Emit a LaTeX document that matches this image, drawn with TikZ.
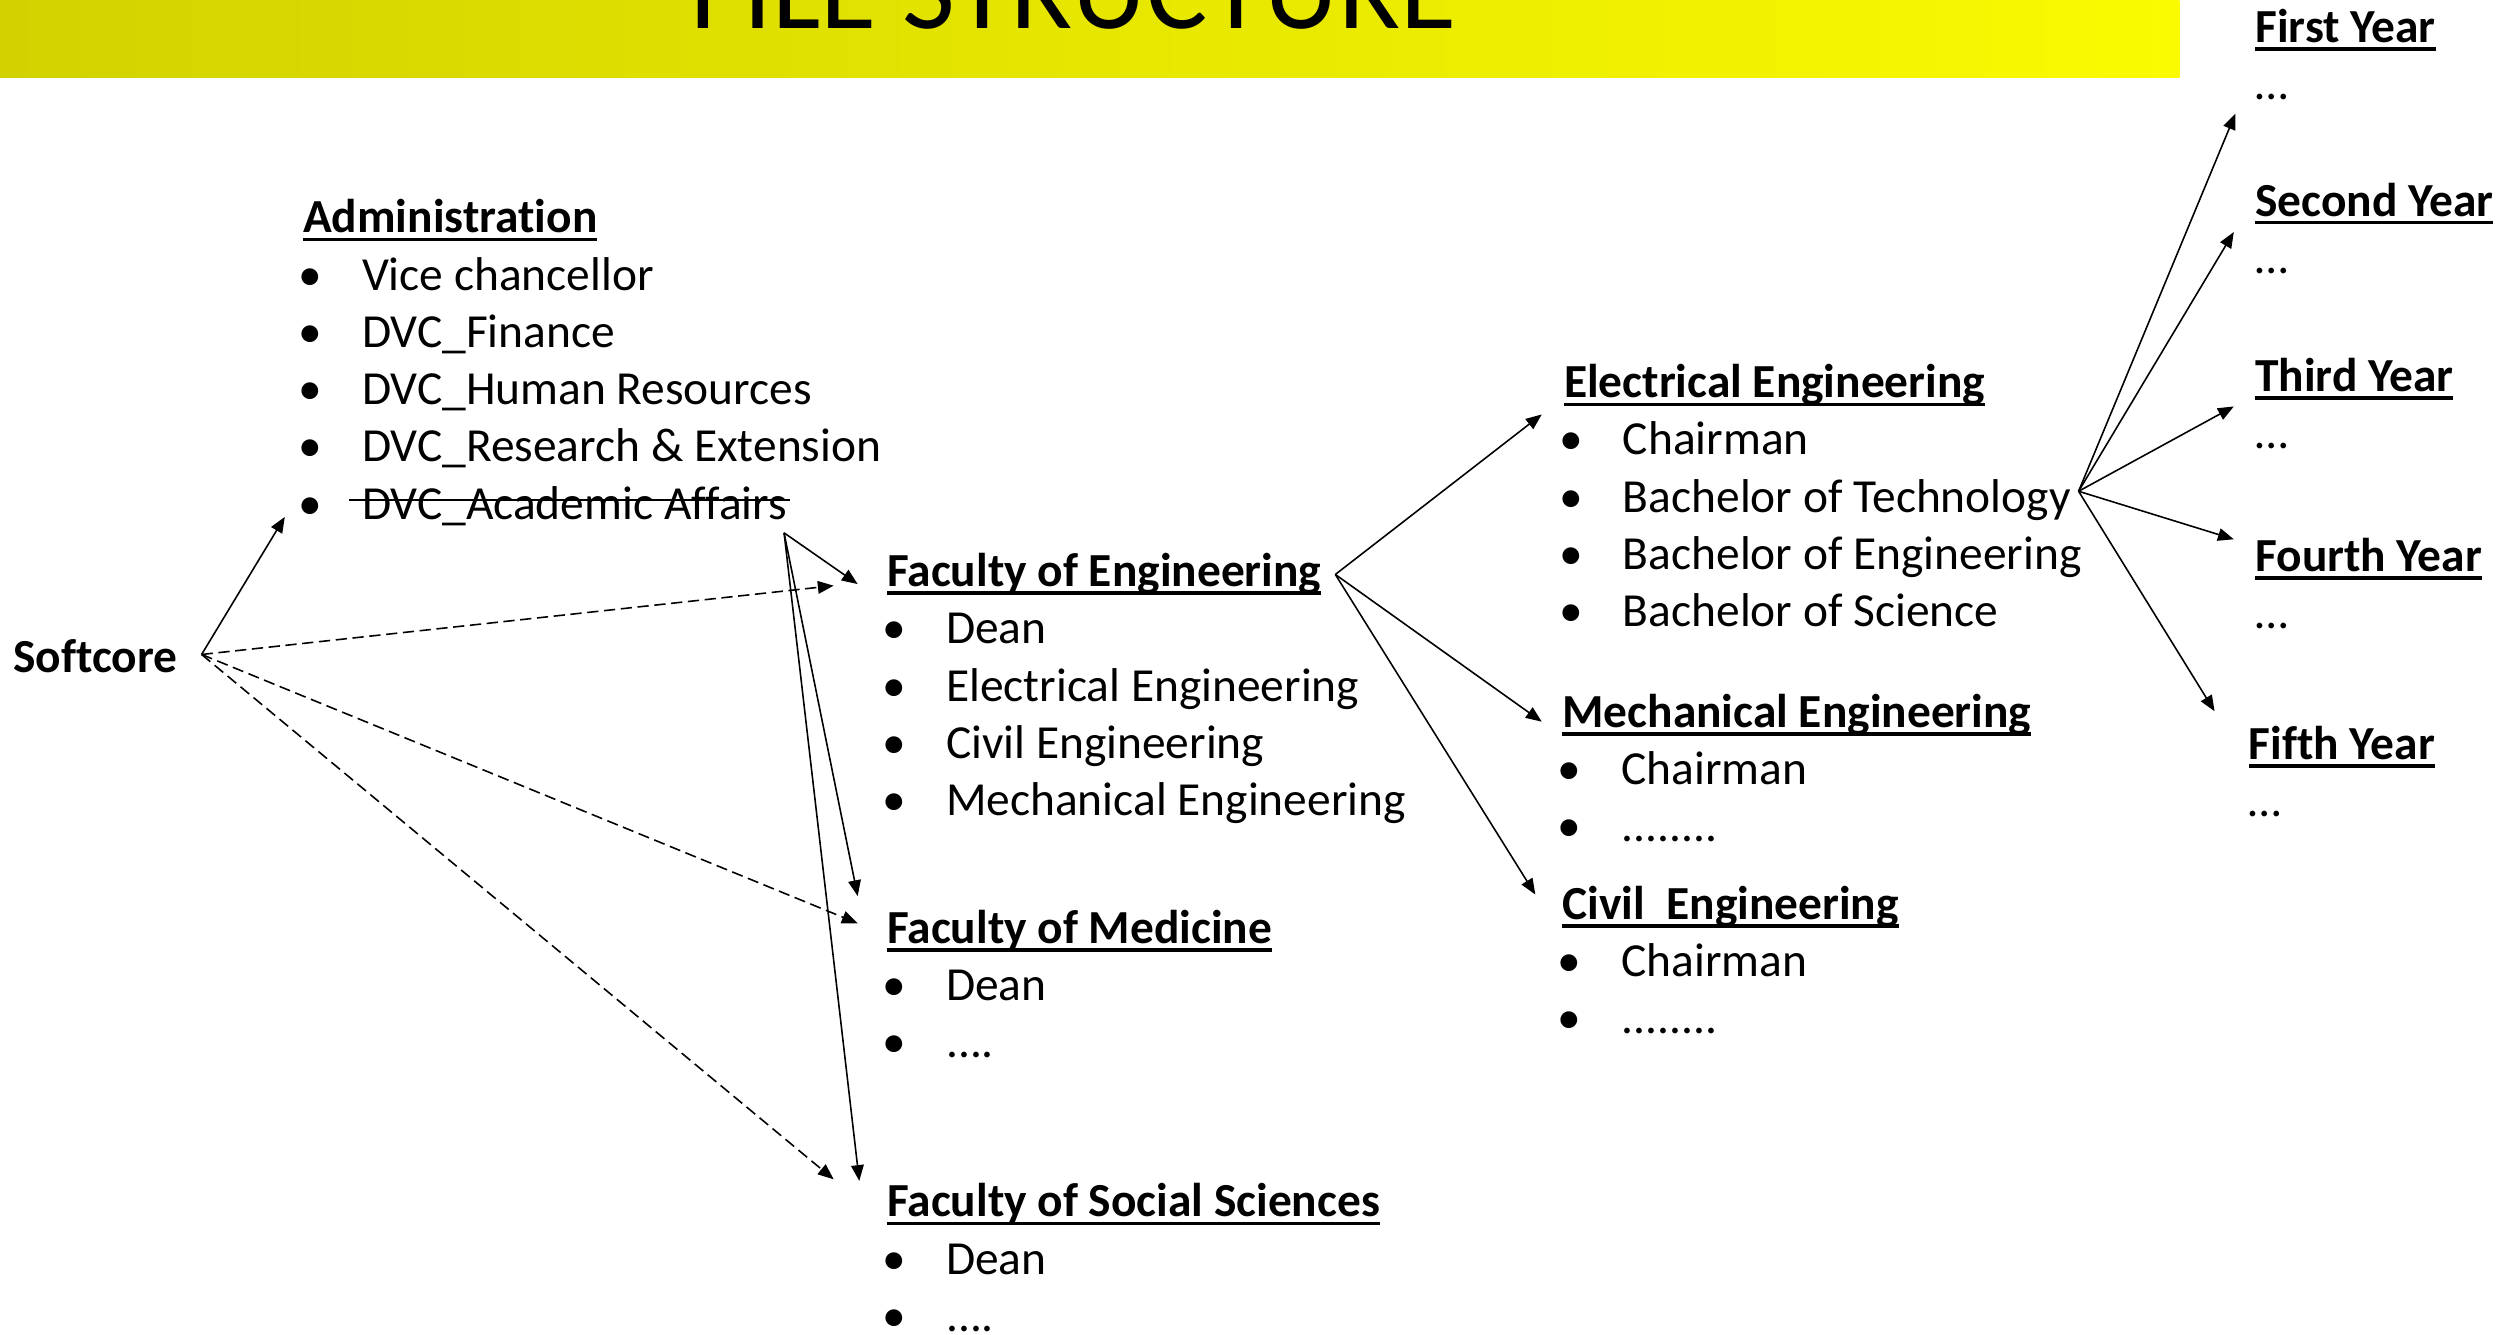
\documentclass[tikz,border=0pt]{standalone}
\usepackage{fontspec}
\setmainfont{Carlito}[Ligatures=NoCommon]
\usepackage{tikz}
\usetikzlibrary{arrows.meta}
\definecolor{banolive}{RGB}{210,210,0}
\definecolor{banyellow}{RGB}{250,250,0}
\newlength\hdwidth
\newcommand{\hd}[1]{\strut\settowidth{\hdwidth}{\textbf{#1}}\textbf{#1}\hspace{-\hdwidth}\rule[-2.4pt]{\hdwidth}{1pt}}
\newcommand{\itm}[1]{\makebox[0.59cm][l]{\hspace{-0.05cm}\textbullet}#1}

\begin{document}
\begin{tikzpicture}[x=0.016cm,y=-0.016cm,
  blk/.style={anchor=north west,align=left,inner sep=0pt,font=\fontsize{13.5pt}{16.3pt}\selectfont},
  link/.style={-{Triangle[length=4.5pt,width=3.6pt]},line width=0.45pt},
  dlink/.style={link,dash pattern=on 3.2pt off 1.6pt}]
\useasboundingbox (0,0) rectangle (1568,834);
\shade[left color=banolive,right color=banyellow] (0,0) rectangle (1362,48.5);
\node[anchor=base,inner sep=0pt,font=\fontsize{32.7pt}{36pt}\selectfont] (title) at (671,18) {FILE STRUCTURE};

\node[anchor=base west,inner sep=0pt,font=\fontsize{13.5pt}{16.3pt}\selectfont] (soft) at (8,420) {\textbf{Softcore}};
\node[blk] (admin) at (189,120) {\hd{Administration}\\
  \itm{Vice chancellor}\\ \itm{DVC\_Finance}\\ \itm{DVC\_Human Resources}\\
  \itm{DVC\_Research \& Extension}\\ \itm{DVC\_Academic Affairs}};
\node[blk] (feng) at (554,341) {\hd{Faculty of Engineering}\\
  \itm{Dean}\\ \itm{Electrical Engineering}\\ \itm{Civil Engineering}\\ \itm{Mechanical Engineering}};
\node[blk] (fmed) at (554,564) {\hd{Faculty of Medicine}\\ \itm{Dean}\\ \itm{....}};
\node[blk] (fsoc) at (554,735) {\hd{Faculty of Social Sciences}\\ \itm{Dean}\\ \itm{....}};
\node[blk] (elec) at (977,223) {\hd{Electrical Engineering}\\
  \itm{Chairman}\\ \itm{Bachelor of Technology}\\ \itm{Bachelor of Engineering}\\ \itm{Bachelor of Science}};
\node[blk] (mech) at (976,429) {\hd{Mechanical Engineering}\\ \itm{Chairman}\\ \itm{........}};
\node[blk] (civil) at (976,549) {\hd{Civil\ \ Engineering}\\ \itm{Chairman}\\ \itm{........}};
\node[blk] (yr1) at (1409,1) {\hd{First Year}\\ …};
\node[blk] (yr2) at (1409,109.5) {\hd{Second Year}\\ …};
\node[blk] (yr3) at (1409,219) {\hd{Third Year}\\ …};
\node[blk] (yr4) at (1409,331.5) {\hd{Fourth Year}\\ …};
\node[blk] (yr5) at (1405,449) {\hd{Fifth Year}\\ …};

\coordinate (softhub) at (126,409);
\coordinate (adminhub) at (490,333);
\coordinate (fenghub) at (834.5,359);
\coordinate (techhub) at (1299,307);
\coordinate (strikea) at (218,312.5);
\coordinate (strikeb) at (494,312.5);
\coordinate (toadmin) at (178,323);
\coordinate (tofeng) at (521,366);
\coordinate (tofmed) at (536,577);
\coordinate (tofsoc) at (521,737);
\coordinate (adfeng) at (536,365);
\coordinate (adfmed) at (536,560);
\coordinate (adfsoc) at (537,738);
\coordinate (toelec) at (963.5,259);
\coordinate (tomech) at (963.5,451);
\coordinate (tocivil) at (959.5,559);
\coordinate (toyr1) at (1397,71);
\coordinate (toyr2) at (1396,145);
\coordinate (toyr3) at (1396,254);
\coordinate (toyr4) at (1396,337);
\coordinate (toyr5) at (1384,444.5);

\draw[line width=0.45pt] (strikea) -- (strikeb);
\draw[link] (softhub) -- (toadmin);
\draw[dlink] (softhub) -- (tofeng);
\draw[dlink] (softhub) -- (tofmed);
\draw[dlink] (softhub) -- (tofsoc);
\draw[link] (adminhub) -- (adfeng);
\draw[link] (adminhub) -- (adfmed);
\draw[link] (adminhub) -- (adfsoc);
\draw[link] (fenghub) -- (toelec);
\draw[link] (fenghub) -- (tomech);
\draw[link] (fenghub) -- (tocivil);
\foreach \y in {1,...,5}
  \draw[link] (techhub) -- (toyr\y);
\end{tikzpicture}
\end{document}
